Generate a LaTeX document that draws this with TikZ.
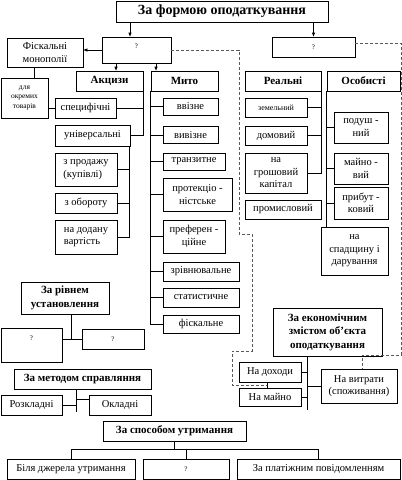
\documentclass[tikz,border=0pt]{standalone}
\usepackage{fontspec}
\setmainfont{Liberation Serif}
\usetikzlibrary{arrows.meta}

\tikzset{
  box/.style={draw, thick, inner sep=1pt, align=center, font=\fontsize{10.5}{12.5}\selectfont},
  hbox/.style={box, font=\bfseries\fontsize{11}{13.5}\selectfont},
  tinybox/.style={box, font=\fontsize{7.5}{9.5}\selectfont},
  qbox/.style={box, font=\fontsize{7}{8}\selectfont},
  conn/.style={thick},
  arr/.style={thick, -{Triangle[length=4pt,width=3pt]}},
  dash line/.style={thick, gray!70!black, dashed, dash pattern=on 3pt off 2pt}
}

\begin{document}
\begin{tikzpicture}[x=1pt, y=-1pt]
\useasboundingbox (0,0) rectangle (402,480);

% title
\node[hbox, font=\bfseries\fontsize{14}{16}\selectfont, minimum width=212pt, minimum height=21pt] (title) at (222,11.5) {За формою оподаткування};

% question boxes
\node[qbox, minimum width=69pt, minimum height=26pt, text depth=8pt] (qL) at (136.5,50) {?};
\node[qbox, minimum width=83pt, minimum height=20pt] (qR) at (313.5,47) {?};

% left branch
\node[box, minimum width=76pt, minimum height=29pt] (fisk) at (45,52.5) {Фіскальні\\монополії};
\node[tinybox, minimum width=47pt, minimum height=40pt] (okremykh) at (24.5,98) {для\\окремих\\товарів};
\node[hbox, minimum width=67pt, minimum height=20pt] (akcyzy) at (109.5,81) {Акцизи};
\node[hbox, minimum width=67pt, minimum height=20pt] (myto) at (184.5,81) {Мито};

% akcyzy
\node[box, minimum width=61pt, minimum height=20pt] (spec) at (85.5,108) {специфічні};
\node[box, minimum width=75pt, minimum height=21pt] (univ) at (92.5,135.5) {універсальні};
\node[box, minimum width=62pt, minimum height=33pt, align=left] (prodazh) at (86,169.5) {з продажу\\(купівлі)};
\node[box, minimum width=62pt, minimum height=20pt] (oborot) at (86,203) {з обороту};
\node[box, minimum width=62pt, minimum height=34pt, align=left] (dodanu) at (86,237) {на додану\\вартість};

% myto
\node[box, minimum width=55pt, minimum height=17pt] (vvizne) at (190.5,106.5) {ввізне};
\node[box, minimum width=55pt, minimum height=17pt] (vyvizne) at (190.5,135) {вивізне};
\node[box, minimum width=62pt, minimum height=17pt] (tranzyt) at (194,161.5) {транзитне};
\node[box, minimum width=69pt, minimum height=33pt] (protek) at (197.5,194.5) {протекціо -\\ністське};
\node[box, minimum width=62pt, minimum height=33pt] (prefer) at (194,236.5) {преферен -\\ційне};
\node[box, minimum width=76pt, minimum height=19pt] (zrivn) at (201,271.5) {зрівнювальне};
\node[box, minimum width=76pt, minimum height=19pt] (statyst) at (201,297.5) {статистичне};
\node[box, minimum width=76pt, minimum height=18pt] (fiskal) at (201,324) {фіскальне};

% right branch
\node[hbox, minimum width=76pt, minimum height=20pt] (realni) at (283,81) {Реальні};
\node[hbox, minimum width=73pt, minimum height=20pt] (osob) at (363.5,81) {Особисті};
\node[tinybox, font=\fontsize{8}{9.5}\selectfont, minimum width=62pt, minimum height=19pt] (zemel) at (276,107.5) {земельний};
\node[box, minimum width=62pt, minimum height=19pt] (domov) at (276,135.5) {домовий};
\node[box, minimum width=62pt, minimum height=40pt] (groshov) at (276,173) {на\\грошовий\\капітал};
\node[box, minimum width=76pt, minimum height=19pt] (promysl) at (283,209.5) {промисловий};
\node[box, minimum width=54pt, minimum height=31pt] (podush) at (361,127.5) {подуш -\\ний};
\node[box, minimum width=54pt, minimum height=31pt] (mayno) at (361,168.5) {майно -\\вий};
\node[box, minimum width=54pt, minimum height=32pt] (prybut) at (361,203) {прибут -\\ковий};
\node[box, minimum width=67pt, minimum height=48pt] (spadsh) at (354.5,251) {на\\спадщину і\\дарування};

% economic content
\node[hbox, minimum width=109pt, minimum height=48pt] (econ) at (327.5,332) {За економічним\\змістом об’єкта\\оподаткування};
\node[box, minimum width=62pt, minimum height=20pt] (dokhody) at (270,372) {На доходи};
\node[box, minimum width=62pt, minimum height=18pt] (vmayno) at (270,397) {На майно};
\node[box, minimum width=76pt, minimum height=34pt] (vytraty) at (359,386) {На витрати\\(споживання)};

% level
\node[hbox, minimum width=88pt, minimum height=32pt] (rivnem) at (65,298) {За рівнем\\установлення};
\node[qbox, minimum width=61pt, minimum height=34pt, text depth=14pt] (rq1) at (31.5,345) {?};
\node[qbox, minimum width=62pt, minimum height=20pt] (rq2) at (113,339) {?};

% method
\node[hbox, minimum width=137pt, minimum height=20pt] (metod) at (82.5,379) {За методом справляння};
\node[box, minimum width=61pt, minimum height=20pt] (rozkl) at (31.5,405) {Розкладні};
\node[box, minimum width=62pt, minimum height=20pt] (okl) at (120,405) {Окладні};

% withholding
\node[hbox, minimum width=143pt, minimum height=20pt] (sposob) at (174.5,431) {За способом утримання};
\node[box, minimum width=128pt, minimum height=20pt] (dzherel) at (71,469) {Біля джерела утримання};
\node[qbox, minimum width=86pt, minimum height=20pt] (sq) at (186,469) {?};
\node[box, minimum width=163pt, minimum height=20pt] (platizh) at (318.5,469) {За платіжним повідомленням};

% arrows from the top
\draw[arr] (title.south -| 130,0) -- (qL.north -| 130,0);
\draw[arr] (title.south -| qR.north) -- (qR.north);
\draw[arr] (qL.west) -- (fisk.east |- qL.west);
\draw[arr] (qL.south -| 116,0) -- (akcyzy.north -| 116,0);
\draw[arr] (qL.south -| 156,0) -- (myto.north -| 156,0);

% left connectors
\draw[conn] (fisk.south -| 34,0) -- (okremykh.north -| 34,0);
\draw[conn] (okremykh.east |- spec.west) -- (spec.west);
\draw[conn] (akcyzy.south east) |- (univ.east);
\draw[conn] (spec.east) -- (spec.east -| akcyzy.east);
\draw[conn] ([xshift=-1pt]univ.south east) |- (dodanu.east);
\foreach \n in {prodazh, oborot}
  \draw[conn] (\n.east) -- (\n.east -| univ.east);
\draw[conn] (myto.south west) |- (fiskal.west);
\foreach \n in {vvizne, vyvizne, tranzyt, protek, prefer, zrivn, statyst}
  \draw[conn] (\n.west) -- (\n.west -| myto.west);

% right connectors
\draw[conn] (realni.south east) |- (groshov.east);
\foreach \n in {zemel, domov}
  \draw[conn] (\n.east) -- (\n.east -| realni.east);
\draw[conn] (osob.south west) -- (spadsh.north -| osob.west);
\foreach \n in {podush, mayno, prybut}
  \draw[conn] (\n.west) -- (\n.west -| osob.west);

% dashed links
\coordinate (dashend) at (267,385);
\draw[dash line] (qL.east) -| (239,234) -| (252,351) -| (232,385) -- (dashend);
\draw[conn] (dokhody.south -| dashend) -- (vmayno.north -| dashend);
\draw[dash line] ([yshift=4pt]qR.east) -| (401,355) -| (vytraty.north -| 362,0);

% economic connectors
\coordinate (econend) at (307,410);
\draw[conn] (econ.south -| econend) -- (econend);
\draw[conn] (dokhody.east) -- (dokhody.east -| econend);
\draw[conn] (vmayno.east) -- (vmayno.east -| econend);
\draw[conn] (vytraty.west -| econend) -- (vytraty.west);

% level connectors
\draw[conn] ([xshift=6pt]rivnem.south) |- (rq2.west);
\draw[conn] (rq1.east |- rq2.west) -- (rq2.west);

% method connectors
\coordinate (metend) at (76,412);
\draw[conn] (metod.south -| metend) -- (metend);
\draw[conn] ([yshift=6pt]okl.west) -- ([yshift=6pt]okl.west -| metend);
\draw[conn] (rozkl.east) -- (rozkl.east -| metend);

% withholding connectors
\coordinate (bus) at (0,449);
\draw[conn] (sposob.south) -- (sposob.south |- bus);
\draw[conn] (dzherel.north) |- (platizh.north |- bus) -- (platizh.north);
\draw[conn] (sq.north) -- (sq.north |- bus);

\end{tikzpicture}
\end{document}
